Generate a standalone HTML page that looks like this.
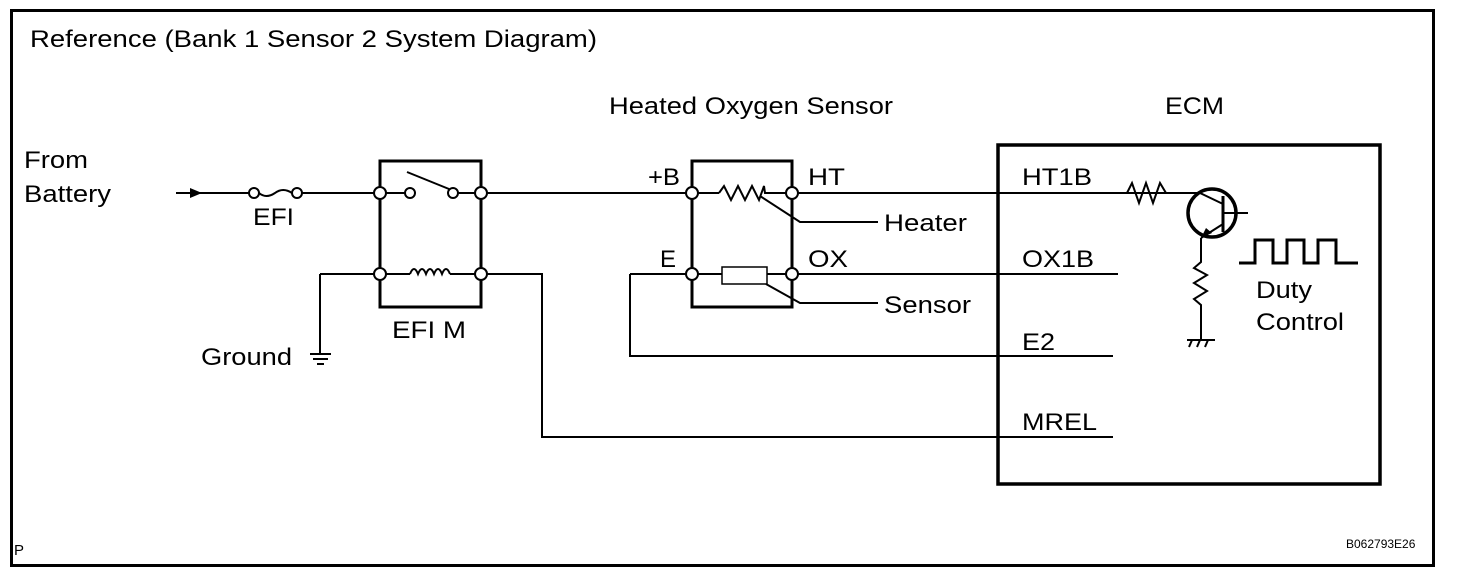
<!DOCTYPE html>
<html><head><style>
body{margin:0;background:#fff}
svg text{font-family:"Liberation Sans",Arial,sans-serif;fill:#000}
</style></head><body>
<svg width="1472" height="576" viewBox="0 0 1472 576" xmlns="http://www.w3.org/2000/svg">
<rect x="0" y="0" width="1472" height="576" fill="#fff"/>
<rect x="11.5" y="10.5" width="1422" height="555" fill="none" stroke="#000" stroke-width="3"/>
<g font-size="24" lengthAdjust="spacingAndGlyphs">
<text x="30" y="47" textLength="567" lengthAdjust="spacingAndGlyphs">Reference (Bank 1 Sensor 2 System Diagram)</text>
<text x="24" y="168" textLength="64" lengthAdjust="spacingAndGlyphs">From</text>
<text x="24" y="202" textLength="87" lengthAdjust="spacingAndGlyphs">Battery</text>
<text x="253" y="225" textLength="41" lengthAdjust="spacingAndGlyphs">EFI</text>
<text x="392" y="338" textLength="74" lengthAdjust="spacingAndGlyphs">EFI M</text>
<text x="201" y="365" textLength="91" lengthAdjust="spacingAndGlyphs">Ground</text>
<text x="609" y="114" textLength="284" lengthAdjust="spacingAndGlyphs">Heated Oxygen Sensor</text>
<text x="1165" y="114" textLength="59" lengthAdjust="spacingAndGlyphs">ECM</text>
<text x="648" y="185" textLength="32" lengthAdjust="spacingAndGlyphs">+B</text>
<text x="808" y="185" textLength="37" lengthAdjust="spacingAndGlyphs">HT</text>
<text x="660" y="267" textLength="16" lengthAdjust="spacingAndGlyphs">E</text>
<text x="808" y="267" textLength="40" lengthAdjust="spacingAndGlyphs">OX</text>
<text x="884" y="231" textLength="83" lengthAdjust="spacingAndGlyphs">Heater</text>
<text x="884" y="313" textLength="87" lengthAdjust="spacingAndGlyphs">Sensor</text>
<text x="1022" y="185" textLength="70" lengthAdjust="spacingAndGlyphs">HT1B</text>
<text x="1022" y="267" textLength="72" lengthAdjust="spacingAndGlyphs">OX1B</text>
<text x="1022" y="350" textLength="33" lengthAdjust="spacingAndGlyphs">E2</text>
<text x="1022" y="430" textLength="75" lengthAdjust="spacingAndGlyphs">MREL</text>
<text x="1256" y="298" textLength="56" lengthAdjust="spacingAndGlyphs">Duty</text>
<text x="1256" y="330" textLength="88" lengthAdjust="spacingAndGlyphs">Control</text>
</g>
<text x="14" y="555" font-size="15">P</text>
<text x="1346" y="548" font-size="12">B062793E26</text>
<g fill="none" stroke="#000" stroke-width="2">
<line x1="176" y1="193" x2="250" y2="193"/>
<path d="M259,193 Q266,199 275,193 Q283,187 292,193"/>
<line x1="302" y1="193" x2="376" y2="193"/>
<line x1="386" y1="193" x2="405" y2="193"/>
<line x1="407" y1="172" x2="449" y2="189"/>
<line x1="458" y1="193" x2="476" y2="193"/>
<line x1="486" y1="193" x2="687" y2="193"/>
<rect x="380" y="161" width="101" height="146" stroke-width="3"/>
<line x1="320" y1="274" x2="376" y2="274"/>
<line x1="386" y1="274" x2="410" y2="274"/>
<path d="M410,274 q4,-10 8,0 q4,-10 8,0 q4,-10 8,0 q4,-10 8,0 q4,-10 8,0"/>
<line x1="450" y1="274" x2="476" y2="274"/>
<line x1="320" y1="274" x2="320" y2="354"/>
<line x1="310" y1="354" x2="331" y2="354"/>
<line x1="313" y1="359" x2="328" y2="359"/>
<line x1="317" y1="364" x2="324" y2="364"/>
<polyline points="486,274 542,274 542,437 1113,437"/>
<rect x="692" y="161" width="100" height="146" stroke-width="3"/>
<line x1="697" y1="193" x2="719" y2="193"/>
<polyline points="719,193 724,186 731,200 738,186 745,200 752,186 759,200 764,186 765,193 787,193"/>
<polyline points="760,196 800,222 878,222"/>
<line x1="797" y1="193" x2="1200" y2="193"/>
<line x1="630" y1="274" x2="687" y2="274"/>
<line x1="697" y1="274" x2="722" y2="274"/>
<rect x="722" y="267" width="45" height="17" stroke-width="1.5"/>
<line x1="767" y1="274" x2="787" y2="274"/>
<polyline points="766,284 800,303 878,303"/>
<line x1="797" y1="274" x2="1118" y2="274"/>
<polyline points="630,274 630,356 1113,356"/>
<rect x="998" y="145" width="382" height="339" stroke-width="3.5"/>
<polyline points="1120,193 1127,193 1132,183 1139,203 1146,183 1153,203 1160,183 1166,193 1200,193 1223,204"/>
<circle cx="1212" cy="213" r="24" stroke-width="3.5"/>
<line x1="1223" y1="196" x2="1223" y2="232" stroke-width="3"/>
<line x1="1223" y1="213" x2="1248" y2="213"/>
<line x1="1223" y1="224" x2="1201" y2="238"/>
<polyline points="1201,238 1201,262 1194,268 1207,275 1194,283 1207,291 1194,299 1201,305 1201,340"/>
<line x1="1187" y1="340" x2="1215" y2="340"/>
<line x1="1189" y1="347" x2="1192" y2="340"/>
<line x1="1197" y1="347" x2="1200" y2="340"/>
<line x1="1205" y1="347" x2="1208" y2="340"/>
<polyline points="1239,263 1255,263 1255,240 1273,240 1273,263 1287,263 1287,240 1304,240 1304,263 1318,263 1318,240 1336,240 1336,263 1358,263" stroke-width="3"/>
</g>
<polygon points="1201,238 1206,228 1212,233" fill="#000"/>
<polygon points="202,193 190,188 190,198" fill="#000"/>
<g fill="#fff" stroke="#000" stroke-width="2">
<circle cx="254" cy="193" r="5"/><circle cx="297" cy="193" r="5"/>
<circle cx="380" cy="193" r="6"/><circle cx="410" cy="193" r="5"/>
<circle cx="453" cy="193" r="5"/><circle cx="481" cy="193" r="6"/>
<circle cx="380" cy="274" r="6"/><circle cx="481" cy="274" r="6"/>
<circle cx="692" cy="193" r="6"/><circle cx="792" cy="193" r="6"/>
<circle cx="692" cy="274" r="6"/><circle cx="792" cy="274" r="6"/>
</g>
</svg>
</body></html>
